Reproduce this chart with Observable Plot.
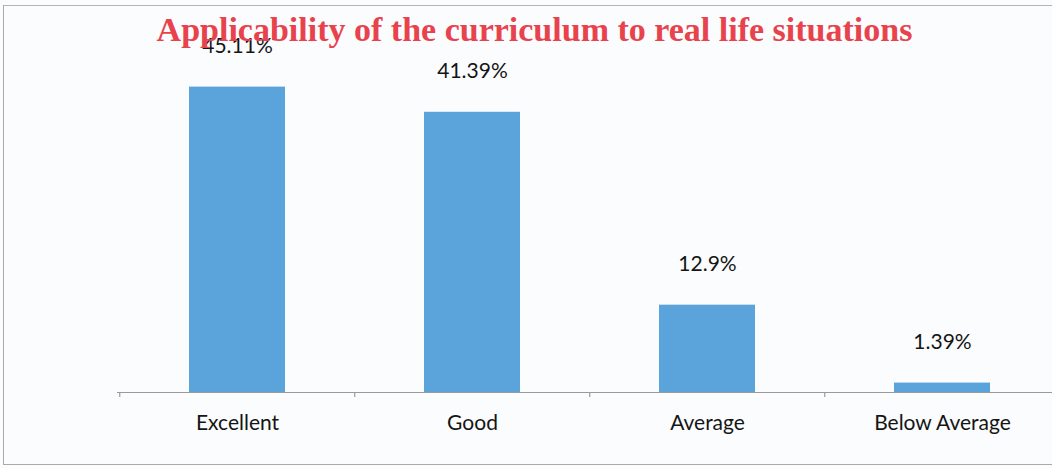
<!DOCTYPE html>
<html>
<head>
<meta charset="utf-8">
<script src="https://cdn.jsdelivr.net/npm/d3@7"></script>
<script src="https://cdn.jsdelivr.net/npm/@observablehq/plot@0.6"></script>
<style>
  html, body { margin: 0; padding: 0; background: #fbfcfd; }
  #wrap { position: relative; width: 1052px; height: 468px; overflow: hidden; }
  #frame { position: absolute; left: 3px; top: 5px; width: 1060px; height: 460px; border-left: 1.5px solid #aaa; border-top: 1.5px solid #b5b5b5; border-bottom: 1.5px solid #aaa; box-sizing: border-box; }
  #title { position: absolute; left: 0; top: 13px; width: 1069px; text-align: center; font-family: "Liberation Serif", "Times New Roman", serif; font-weight: bold; font-size: 34px; line-height: 1; color: #e8434d; z-index: 2; white-space: nowrap; }
  #chart { position: absolute; left: 0; top: 0; }
</style>
</head>
<body>
<div id="wrap">
  <div id="frame"></div>
  <div id="chart"></div>
  <div id="title">Applicability of the curriculum to real life situations</div>
</div>
<script>
const categories = ["Excellent", "Good", "Average", "Below Average"];
const values = [45.11, 41.39, 12.9, 1.39];
const valueLabels = ["45.11%", "41.39%", "12.9%", "1.39%"];

const data = categories.map((c, i) => ({category: c, value: values[i], label: valueLabels[i]}));

const step = (1060 - 118) / categories.length;

const chart = Plot.plot({
  width: 1052,
  height: 468,
  marginLeft: 117,
  marginRight: 0,
  marginTop: 0,
  marginBottom: 76,
  style: {background: "transparent", overflow: "visible"},
  x: {domain: categories, range: [119, 1061], paddingInner: 0.59, paddingOuter: 0.295, axis: null},
  y: {domain: [0, 50], range: [392, 53.5], axis: null},
  marks: [
    Plot.barY(data, {x: "category", y: "value", fill: "#5ba4db"}),
    Plot.ruleY([0], {stroke: "#9a9a9a", strokeWidth: 1.2}),
    Plot.ruleX(categories, {x: d => d, y1: 0, y2: -0.75, dx: -step / 2, stroke: "#9a9a9a", strokeWidth: 1.2}),
    Plot.text(data, {x: "category", y: "value", text: "label", dy: -41, fontSize: 21, fill: "#151515", fontFamily: "Lato, 'Open Sans', sans-serif", lineAnchor: "middle"}),
    Plot.text(data, {x: "category", y: 0, text: "category", dy: 31, fontSize: 21, fill: "#151515", fontFamily: "Lato, 'Open Sans', sans-serif", lineAnchor: "middle"})
  ]
});
document.getElementById("chart").appendChild(chart);
</script>
</body>
</html>
